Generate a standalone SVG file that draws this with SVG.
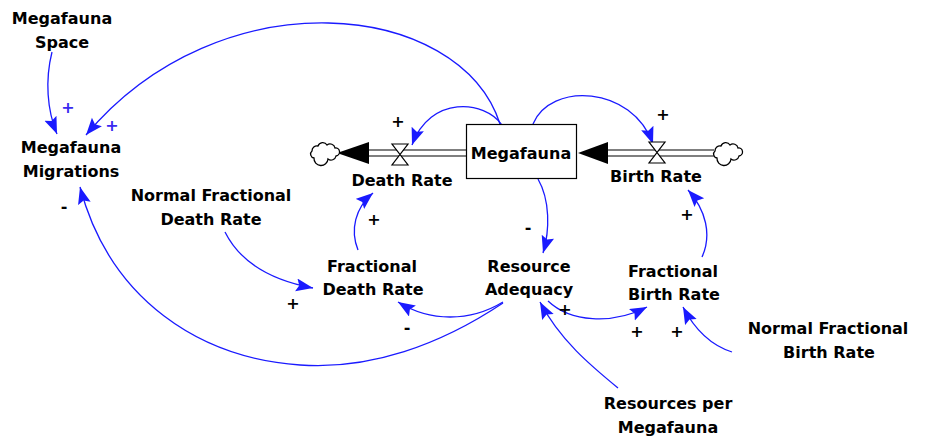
<svg xmlns="http://www.w3.org/2000/svg" width="929" height="438" viewBox="0 0 929 438">
<style>
text{font-family:"DejaVu Sans","Verdana",sans-serif;font-weight:bold;font-size:16px;fill:#000;text-anchor:middle}
.sign{font-size:16px}
.bsign{font-size:16px;fill:#3a2af0}
.link{fill:none;stroke:#1a1aff;stroke-width:1.3}
.pipe{fill:none;stroke:#000;stroke-width:1.2}
.valve{fill:#fff;stroke:#000;stroke-width:1.2}
.cloud{fill:#fff;stroke:#000;stroke-width:1.3}
</style>
<defs>
<marker id="ah" markerUnits="userSpaceOnUse" markerWidth="20" markerHeight="16" refX="17" refY="6.5" orient="auto">
<path d="M0,0 L17,6.5 L0,13 L3,6.5 Z" fill="#1a1aff"/>
</marker>
<path id="cloud" d="M-10,5 a4,4 0 0 1 -2,-7 a5,5 0 0 1 6,-5 a5,5 0 0 1 9,-1 a5,5 0 0 1 8,3 a4,4 0 0 1 1,8 a5,5 0 0 1 -8,3 a5,5 0 0 1 -14,-1 z"/>
</defs>
<rect width="929" height="438" fill="#fff"/>

<g id="connectors">
<path class="link" d="M502,125 C485,100 430,95 412,145" marker-end="url(#ah)"/>
<path class="link" d="M533,124 C550,82 632,85 653,144" marker-end="url(#ah)"/>
<path class="link" d="M500,124 C460,0 220,-25 86,135" marker-end="url(#ah)"/>
<path class="link" d="M52,52 C45,80 47,110 57,134" marker-end="url(#ah)"/>
<path class="link" d="M503,303 C440,345 370,370 300,365 C200,358 110,300 80,187" marker-end="url(#ah)"/>
<path class="link" d="M225,232 C240,262 270,280 313,288" marker-end="url(#ah)"/>
<path class="link" d="M358,250 C350,230 355,208 373,193" marker-end="url(#ah)"/>
<path class="link" d="M538,179 C550,200 550,230 543,253" marker-end="url(#ah)"/>
<path class="link" d="M503,302 C470,322 430,322 398,302" marker-end="url(#ah)"/>
<path class="link" d="M548,301 C570,322 612,325 647,307" marker-end="url(#ah)"/>
<path class="link" d="M702,257 C712,235 706,210 688,190" marker-end="url(#ah)"/>
<path class="link" d="M732,352 C710,345 695,330 683,307" marker-end="url(#ah)"/>
<path class="link" d="M618,388 C590,365 560,340 540,302" marker-end="url(#ah)"/>
</g>

<g id="death-flow">
<line class="pipe" x1="366" y1="150" x2="467" y2="150"/>
<line class="pipe" x1="366" y1="156" x2="467" y2="156"/>
<path d="M337,153 L369,142 L369,164 Z" fill="#000"/>
<use href="#cloud" class="cloud" transform="translate(324,153)"/>
<path class="valve" d="M392,144 L408,144 L392,165 L408,165 Z"/>
<text x="402" y="186">Death Rate</text>
</g>

<g id="birth-flow">
<line class="pipe" x1="605" y1="150" x2="714" y2="150"/>
<line class="pipe" x1="605" y1="156" x2="714" y2="156"/>
<path d="M578,153 L608,142 L608,164 Z" fill="#000"/>
<use href="#cloud" class="cloud" transform="translate(727,153)"/>
<path class="valve" d="M649,142 L665,142 L649,163 L665,163 Z"/>
<text x="656" y="182">Birth Rate</text>
</g>

<g id="megafauna">
<rect x="466.5" y="124.5" width="110" height="54" fill="#fff" stroke="#000" stroke-width="1.2"/>
<text x="521" y="159">Megafauna</text>
</g>

<g id="megafauna-space"><text x="62" y="24">Megafauna</text><text x="62" y="48">Space</text></g>
<g id="megafauna-migrations"><text x="71" y="153">Megafauna</text><text x="71" y="177">Migrations</text></g>
<g id="normal-fractional-death-rate"><text x="211" y="201">Normal Fractional</text><text x="211" y="225">Death Rate</text></g>
<g id="fractional-death-rate"><text x="372" y="272">Fractional</text><text x="373" y="295">Death Rate</text></g>
<g id="resource-adequacy"><text x="529" y="272">Resource</text><text x="529" y="295">Adequacy</text></g>
<g id="fractional-birth-rate"><text x="673" y="277">Fractional</text><text x="674" y="300">Birth Rate</text></g>
<g id="normal-fractional-birth-rate"><text x="828" y="334">Normal Fractional</text><text x="829" y="358">Birth Rate</text></g>
<g id="resources-per-megafauna"><text x="668" y="409">Resources per</text><text x="668" y="433">Megafauna</text></g>

<g id="polarities">
<text class="sign" x="398" y="127">+</text>
<text class="sign" x="663" y="120">+</text>
<text class="bsign" x="68" y="113">+</text>
<text class="bsign" x="112" y="131">+</text>
<text class="sign" x="64" y="212">-</text>
<text class="sign" x="374" y="225">+</text>
<text class="sign" x="528" y="233">-</text>
<text class="sign" x="293" y="309">+</text>
<text class="sign" x="407" y="333">-</text>
<text class="sign" x="565" y="315">+</text>
<text class="sign" x="637" y="337">+</text>
<text class="sign" x="677" y="337">+</text>
<text class="sign" x="687" y="220">+</text>
</g>
</svg>
